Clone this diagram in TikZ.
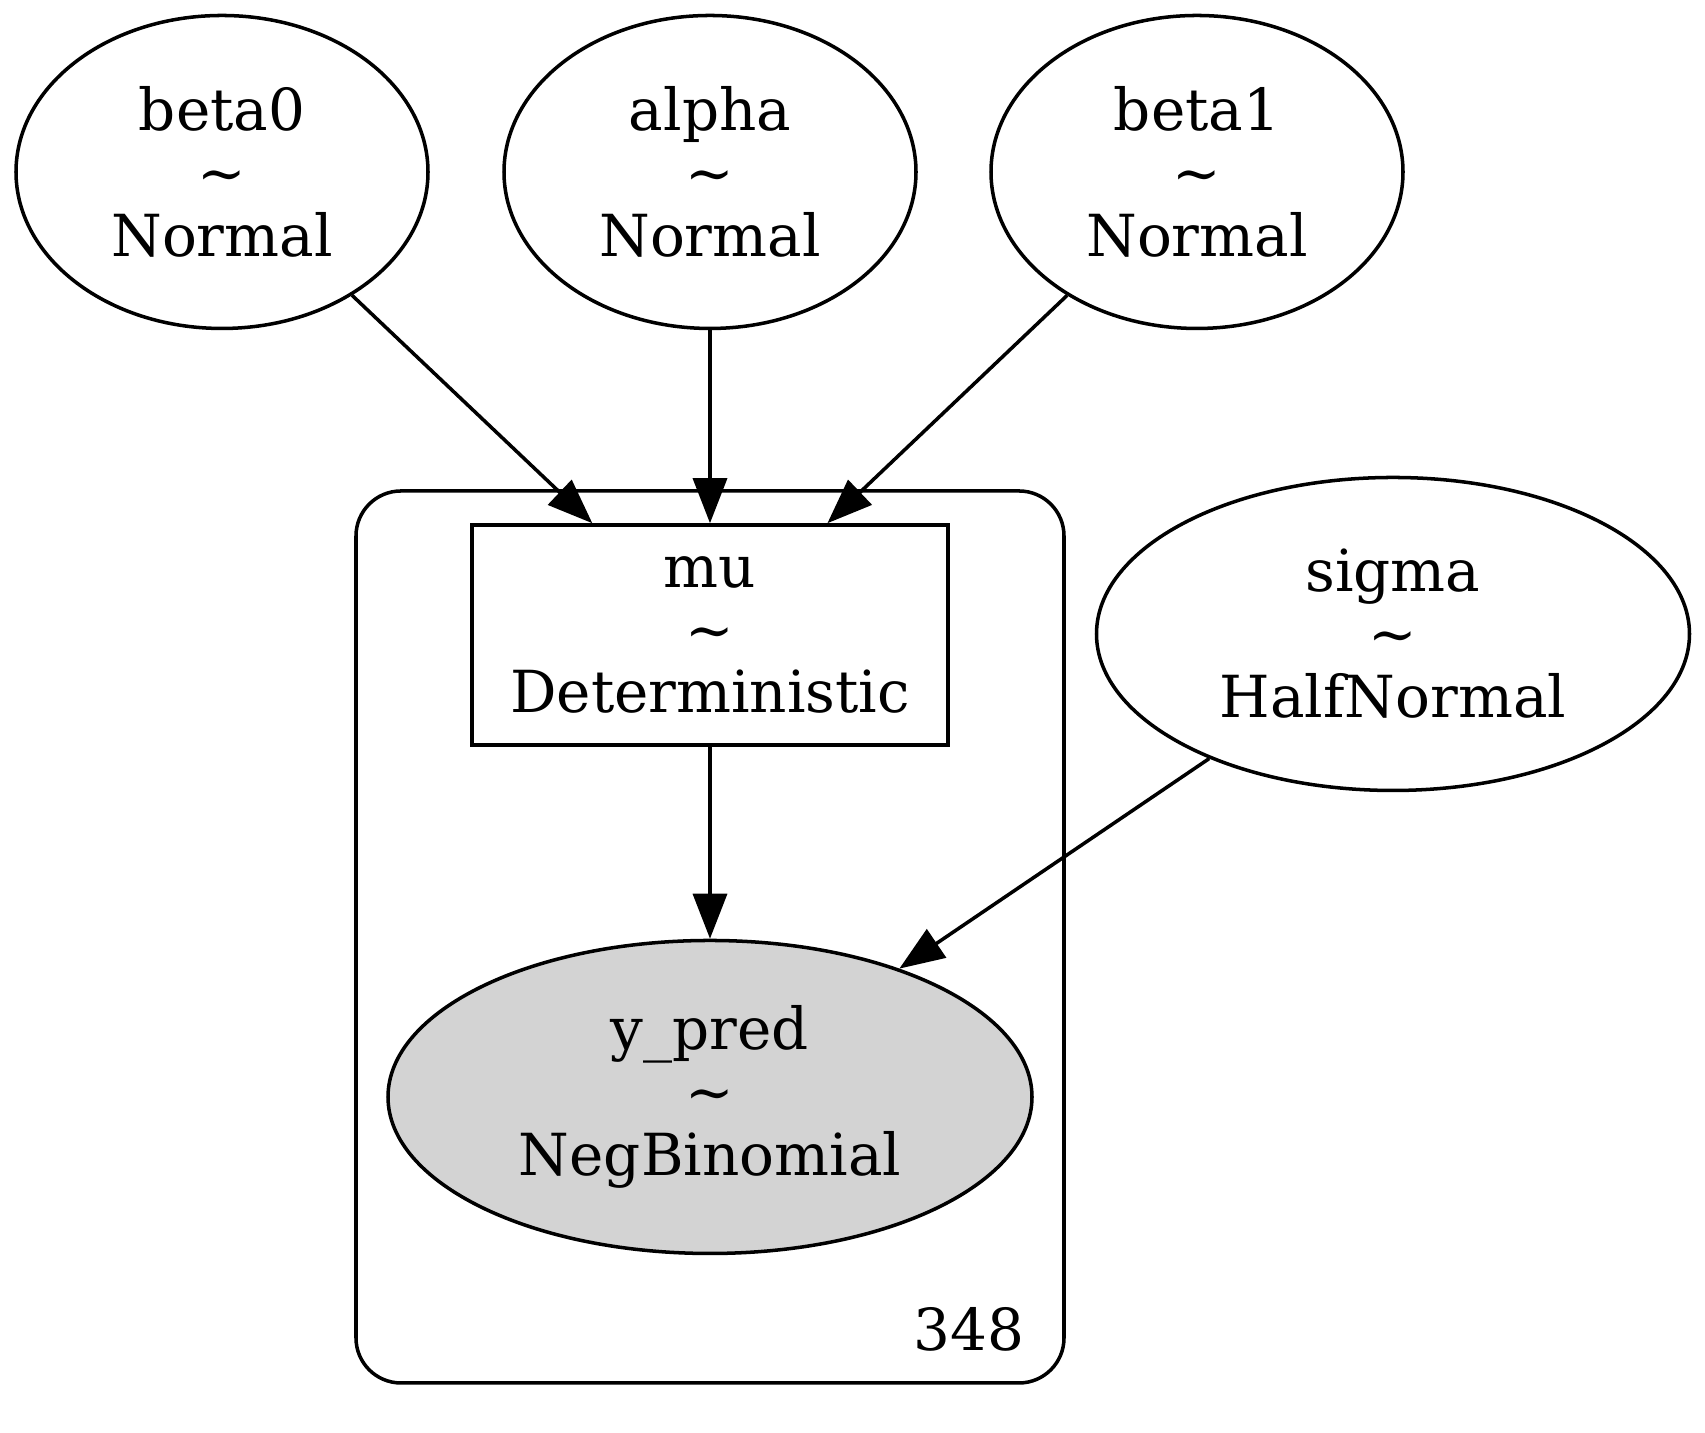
\documentclass[tikz,border=0pt]{standalone}
\usepackage{fontspec}
\setmainfont{DejaVu Serif}
\usetikzlibrary{shapes.geometric, arrows.meta}
\definecolor{obsgray}{HTML}{D3D3D3}
\begin{document}
\begin{tikzpicture}[every node/.style={align=center, inner sep=0pt, font=\fontsize{16.5}{17.9}\selectfont},
	rv/.style={ellipse, draw, line width=1pt, minimum width=4.12cm, minimum height=3.13cm},
	det/.style={rectangle, draw, line width=1pt, minimum width=4.76cm, minimum height=2.2cm},
	obs/.style={rv, fill=obsgray, minimum width=6.44cm},
	edge/.style={-{Triangle[length=0.45cm, width=0.34cm]}, line width=1pt}]

		\useasboundingbox (0, 0) rectangle (17.05, 14.33);
		\draw[line width=1pt, rounded corners=0.45cm] (3.56, 0.50) rectangle (10.64, 9.42);
		\node[anchor=base east] (n) at (10.25, 0.82) {348};

		\node[rv] (beta0) at (2.22, 12.61) {beta0\\\textasciitilde\\Normal};
		\node[rv] (alpha) at (7.10, 12.61) {alpha\\\textasciitilde\\Normal};
		\node[rv] (beta1) at (11.97, 12.61) {beta1\\\textasciitilde\\Normal};
		\node[rv, minimum width=5.93cm] (sigma) at (13.93, 7.99) {sigma\\\textasciitilde\\HalfNormal};
		\node[det] (mu) at (7.10, 7.98) {mu\\\textasciitilde\\Deterministic};
		\node[obs] (ypred) at (7.10, 3.36) {y\_pred\\\textasciitilde\\NegBinomial};
		\draw[edge] (beta0) -- (mu);
		\draw[edge] (alpha) -- (mu);
		\draw[edge] (beta1) -- (mu);
		\draw[edge] (mu) -- (ypred);
		\draw[edge] (sigma) -- (ypred);
	\end{tikzpicture}
\end{document}
